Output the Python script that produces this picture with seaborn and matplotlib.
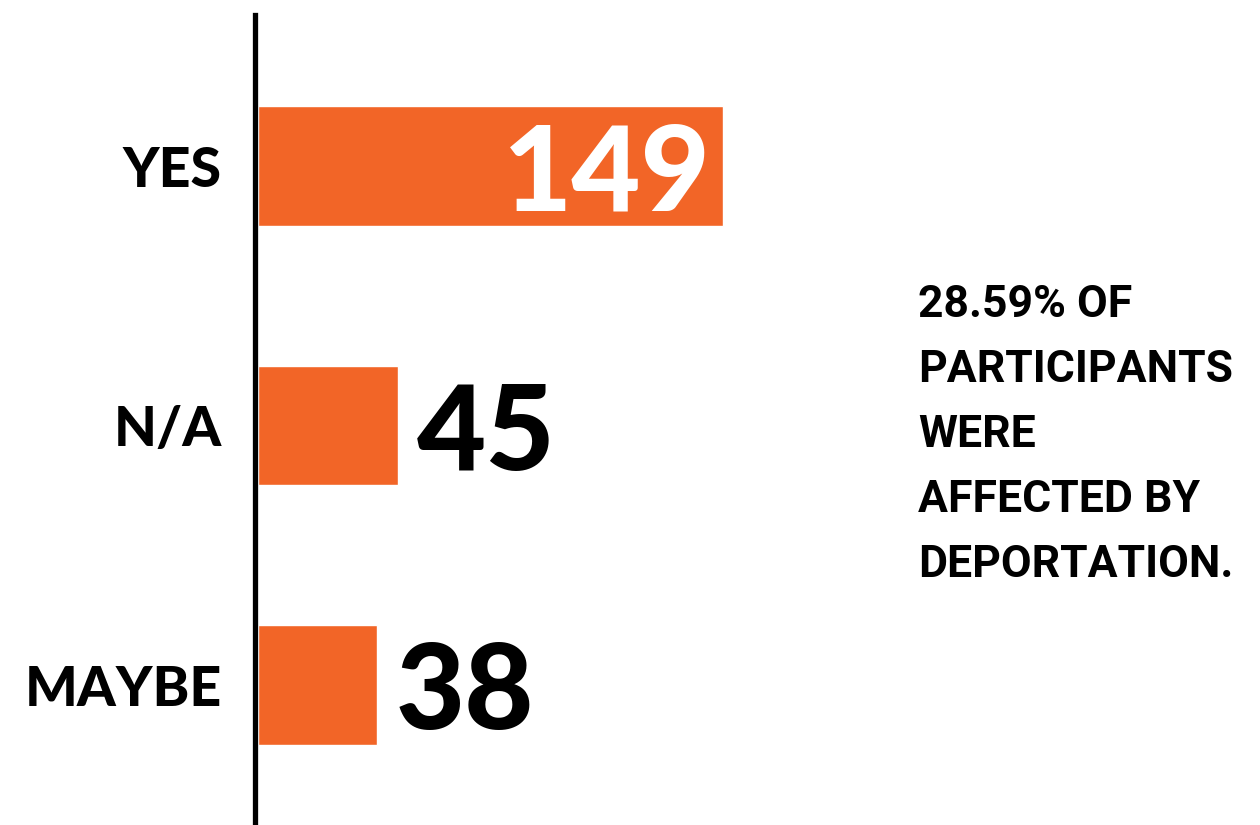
import matplotlib
matplotlib.use("Agg")
import matplotlib.pyplot as plt
import matplotlib.transforms as mtransforms
import seaborn as sns
import pandas as pd

# Survey answers: affected by deportation?
answers = ["YES", "N/A", "MAYBE"]
counts = [149, 45, 38]
summary = "28.59% OF\nPARTICIPANTS\nWERE\nAFFECTED BY\nDEPORTATION."

bar_color = "#F26527"

sns.set_theme(style="white")
plt.rcParams["font.family"] = ["Lato", "DejaVu Sans"]

df = pd.DataFrame({"answer": answers, "count": counts})

fig = plt.figure(figsize=(12.6, 8.25), dpi=100)
ax = fig.add_axes([258 / 1260, 0.0, 936 / 1260, 810 / 825])

sns.barplot(data=df, x="count", y="answer", order=answers, color=bar_color,
            saturation=1, width=0.46, orient="h", ax=ax)

ax.set_xlim(0, 300)
ax.set_ylim(2.539, -0.582)
ax.set_xlabel("")
ax.set_ylabel("")
ax.set_xticks([])
ax.tick_params(axis="y", length=0, labelleft=False)
for side in ["top", "right", "bottom"]:
    ax.spines[side].set_visible(False)
ax.spines["left"].set_linewidth(3.8)
ax.spines["left"].set_color("black")
ax.spines["left"].set_position(("outward", 2))

# Category names to the left of the axis line
label_tf = mtransforms.offset_copy(ax.get_yaxis_transform(), fig=fig, x=-36, y=0, units="dots")
for i, name in enumerate(answers):
    ax.text(0, i, name, transform=label_tf, ha="right", va="center_baseline",
            fontsize=40, fontweight="black", color="black")

# Value labels: inside the longest bar, beside the shorter ones
longest = max(counts)
for i, v in enumerate(counts):
    if v == longest:
        ax.text(v - 4, i, f"{v}", ha="right", va="center_baseline",
                fontsize=86, fontweight="black", color="white")
    else:
        ax.text(v + 6, i, f"{v}", ha="left", va="center_baseline",
                fontsize=86, fontweight="black", color="black")

fig.text(918 / 1260, 1 - 284 / 825, summary, ha="left", va="top",
         fontsize=32, fontweight="bold", family=["Roboto", "DejaVu Sans"],
         linespacing=1.7, color="black")

fig.savefig("out.png", dpi=100, facecolor="white")
